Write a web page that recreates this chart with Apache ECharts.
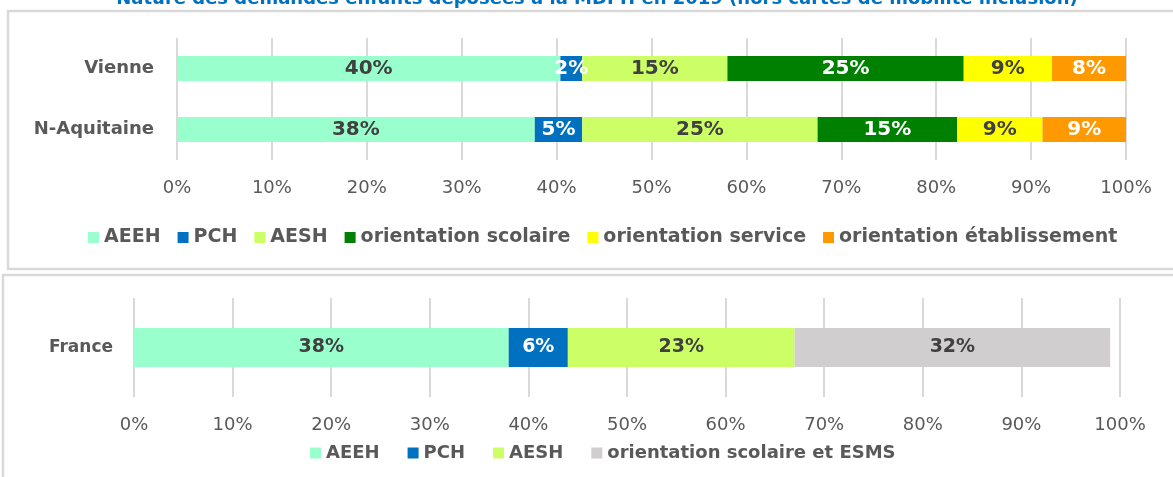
<!DOCTYPE html>
<html>
<head>
<meta charset="utf-8">
<script src="https://cdn.jsdelivr.net/npm/echarts@6/dist/echarts.min.js"></script>
<style>
  html, body { margin: 0; padding: 0; background: #fff; }
  #main { width: 1173px; height: 477px; }
</style>
</head>
<body>
<div id="main"></div>
<script>
// données du haut : Vienne / N-Aquitaine
var topCats = ['Vienne', 'N-Aquitaine'];
var aeeh = [40.4, 37.7];
var pch = [2.3, 5.0];
var aesh = [15.3, 24.8];
var orientScolaire = [24.9, 14.7];
var orientService = [9.3, 9.0];
var orientEtab = [7.8, 8.8];

// données du bas : France
var bottomCats = ['France'];
var frAeeh = [38];
var frPch = [6];
var frAesh = [23];
var frOrientEsms = [32];

var titre = 'Nature des demandes enfants déposées à la MDPH en 2019 (hors cartes de mobilité inclusion)';

var colors = {
    'AEEH': '#99FFCC',
    'PCH': '#0070C0',
    'AESH': '#CCFF66',
    'orientation scolaire': '#008000',
    'orientation service': '#FFFF00',
    'orientation établissement': '#FF9900',
    'orientation scolaire et ESMS': '#D0CECE'
};
var font = 'DejaVu Sans';
var grey = '#595959';

function pct(p) {
    return Math.round(p.value) + '%';
}

function barSerie(name, data, idx, labelColor, width) {
    return {
        name: name,
        type: 'bar',
        stack: 'total' + idx,
        xAxisIndex: idx,
        yAxisIndex: idx,
        barWidth: width,
        data: data,
        itemStyle: { color: colors[name] },
        label: {
            show: true,
            position: 'inside',
            formatter: pct,
            color: labelColor,
            fontFamily: font,
            fontWeight: 'bold',
            fontSize: idx === 0 ? 20 : 19
        }
    };
}

function xAx(idx, margin, size) {
    return {
        type: 'value',
        gridIndex: idx,
        min: 0,
        max: 100,
        interval: 10,
        axisLine: { show: false },
        axisTick: { show: false },
        splitLine: { lineStyle: { color: '#d9d9d9', width: 2 } },
        axisLabel: {
            formatter: '{value}%',
            color: grey,
            fontFamily: font,
            fontSize: size,
            margin: margin
        }
    };
}

function yAx(idx, cats, margin, size) {
    return {
        type: 'category',
        gridIndex: idx,
        inverse: true,
        data: cats,
        axisLine: { show: false },
        axisTick: { show: false },
        axisLabel: {
            color: grey,
            fontFamily: font,
            fontWeight: 'bold',
            fontSize: size,
            margin: margin
        }
    };
}

var myChart = echarts.init(document.getElementById('main'));

var option = {
    animation: false,
    graphic: [
        {
            type: 'rect',
            shape: { x: 8, y: 11, width: 1250, height: 258 },
            style: { fill: 'none', stroke: '#d9d9d9', lineWidth: 2.5 }
        },
        {
            type: 'rect',
            shape: { x: 3, y: 275, width: 1250, height: 260 },
            style: { fill: 'none', stroke: '#d9d9d9', lineWidth: 2.5 }
        },
        {
            type: 'text',
            x: 597,
            y: 8,
            style: {
                text: titre,
                fill: '#0070C0',
                font: 'bold 18px "DejaVu Sans"',
                align: 'center',
                verticalAlign: 'bottom'
            }
        }
    ],
    legend: [
        {
            left: 83,
            top: 223,
            itemWidth: 11,
            itemHeight: 11,
            itemGap: 17,
            icon: 'rect',
            textStyle: { color: grey, fontFamily: font, fontWeight: 'bold', fontSize: 19 },
            data: ['AEEH', 'PCH', 'AESH', 'orientation scolaire', 'orientation service', 'orientation établissement']
        },
        {
            left: 305,
            top: 439,
            itemWidth: 11,
            itemHeight: 11,
            itemGap: 28,
            icon: 'rect',
            textStyle: { color: grey, fontFamily: font, fontWeight: 'bold', fontSize: 18 },
            data: ['AEEH', 'PCH', 'AESH', 'orientation scolaire et ESMS']
        }
    ],
    grid: [
        { left: 177, right: 47, top: 38, height: 122 },
        { left: 134, right: 53, top: 298, height: 99 }
    ],
    xAxis: [xAx(0, 19, 18), xAx(1, 19, 18)],
    yAxis: [yAx(0, topCats, 23, 18), yAx(1, bottomCats, 21, 17)],
    series: [
        barSerie('AEEH', aeeh, 0, '#404040', 25),
        barSerie('PCH', pch, 0, '#ffffff', 25),
        barSerie('AESH', aesh, 0, '#404040', 25),
        barSerie('orientation scolaire', orientScolaire, 0, '#ffffff', 25),
        barSerie('orientation service', orientService, 0, '#404040', 25),
        barSerie('orientation établissement', orientEtab, 0, '#ffffff', 25),
        barSerie('AEEH', frAeeh, 1, '#404040', 39),
        barSerie('PCH', frPch, 1, '#ffffff', 39),
        barSerie('AESH', frAesh, 1, '#404040', 39),
        barSerie('orientation scolaire et ESMS', frOrientEsms, 1, '#404040', 39)
    ]
};

if (option && typeof option === "object") {
    myChart.setOption(option, true);
}
</script>
</body>
</html>
